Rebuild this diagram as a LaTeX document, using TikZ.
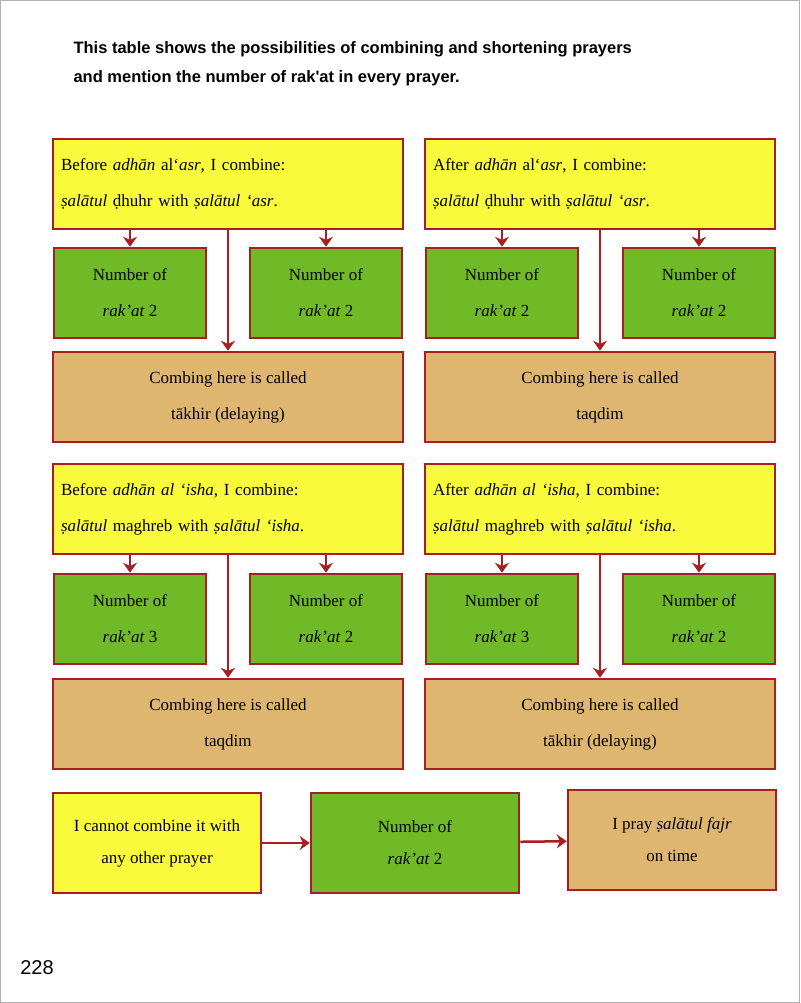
\documentclass[tikz,border=0pt]{standalone}
\usepackage{fontspec}
\setmainfont{Liberation Serif}
\newfontfamily\titlefont{Liberation Sans}
\usetikzlibrary{arrows.meta}
\definecolor{boxred}{RGB}{170,30,35}
\definecolor{boxyellow}{RGB}{250,250,60}
\definecolor{boxgreen}{RGB}{112,186,40}
\definecolor{boxtan}{RGB}{222,182,112}

\begin{document}
\begin{tikzpicture}[x=1pt, y=-1pt,
    box/.style={draw=boxred, line width=2.5pt, minimum height=90pt,
        inner sep=4pt, align=center, font=\fontsize{17}{36}\selectfont},
    ask/.style={box, fill=boxyellow, minimum width=350pt, align=left,
        text width=334pt},
    count/.style={box, fill=boxgreen, minimum width=152pt},
    verdict/.style={box, fill=boxtan, minimum width=350pt},
    last/.style={box, minimum width=208pt, minimum height=100pt,
        font=\fontsize{17}{32}\selectfont},
    link/.style={draw=boxred, line width=2.5pt,
        -{Stealth[length=10pt, width=14pt]}}
]
    \fill[white] (0,0) rectangle (800,1003);
    \draw[gray!60, line width=1pt] (0.5,0.5) rectangle (799.5,1002.5);
    \node[anchor=west, align=left, font=\titlefont\bfseries\fontsize{16.5}{29}\selectfont] (title) at (70,64)
        {This table shows the possibilities of combining and shortening prayers\\and mention the number of rak'at in every prayer.};

    % zuhr and asr
    \node[ask] (ask1) at (228,184) {Before \textit{adhān} al‘\textit{asr}, I combine:\\\textit{ṣalātul} ḍhuhr with \textit{ṣalātul ‘asr}.};
    \node[ask] (ask2) at (600,184) {After \textit{adhān} al‘\textit{asr}, I combine:\\\textit{ṣalātul} ḍhuhr with \textit{ṣalātul ‘asr}.};
    \node[count] (cnt1) at (130,293) {Number of\\\textit{rak’at} 2};
    \node[count] (cnt2) at (326,293) {Number of\\\textit{rak’at} 2};
    \node[count] (cnt3) at (502,293) {Number of\\\textit{rak’at} 2};
    \node[count] (cnt4) at (699,293) {Number of\\\textit{rak’at} 2};
    \node[verdict] (res1) at (228,397) {Combing here is called\\tākhir (delaying)};
    \node[verdict] (res2) at (600,397) {Combing here is called\\taqdim};

    % maghreb and isha
    \node[ask] (ask3) at (228,509) {Before \textit{adhān al ‘isha}, I combine:\\\textit{ṣalātul} maghreb with \textit{ṣalātul ‘isha}.};
    \node[ask] (ask4) at (600,509) {After \textit{adhān al ‘isha}, I combine:\\\textit{ṣalātul} maghreb with \textit{ṣalātul ‘isha}.};
    \node[count] (cnt5) at (130,619) {Number of\\\textit{rak’at} 3};
    \node[count] (cnt6) at (326,619) {Number of\\\textit{rak’at} 2};
    \node[count] (cnt7) at (502,619) {Number of\\\textit{rak’at} 3};
    \node[count] (cnt8) at (699,619) {Number of\\\textit{rak’at} 2};
    \node[verdict] (res3) at (228,724) {Combing here is called\\taqdim};
    \node[verdict] (res4) at (600,724) {Combing here is called\\tākhir (delaying)};

    % fajr
    \node[last, fill=boxyellow] (fajr1) at (157,843) {I cannot combine it with\\any other prayer};
    \node[last, fill=boxgreen] (fajr2) at (415,843) {Number of\\\textit{rak’at} 2};
    \node[last, fill=boxtan] (fajr3) at (672,840) {I pray \textit{ṣalātul fajr}\\on time};

    \draw[link] (ask1.south -| cnt1) -- (cnt1);
    \draw[link] (ask1.south -| cnt2) -- (cnt2);
    \draw[link] (ask1.south) -- (res1);
    \draw[link] (ask2.south -| cnt3) -- (cnt3);
    \draw[link] (ask2.south -| cnt4) -- (cnt4);
    \draw[link] (ask2.south) -- (res2);
    \draw[link] (ask3.south -| cnt5) -- (cnt5);
    \draw[link] (ask3.south -| cnt6) -- (cnt6);
    \draw[link] (ask3.south) -- (res3);
    \draw[link] (ask4.south -| cnt7) -- (cnt7);
    \draw[link] (ask4.south -| cnt8) -- (cnt8);
    \draw[link] (ask4.south) -- (res4);
    \draw[link] (fajr1) -- (fajr2);
    \draw[link] (fajr2) -- (fajr3);

    \node[font=\titlefont\fontsize{20}{24}\selectfont] (page) at (37,968) {228};
\end{tikzpicture}
\end{document}
